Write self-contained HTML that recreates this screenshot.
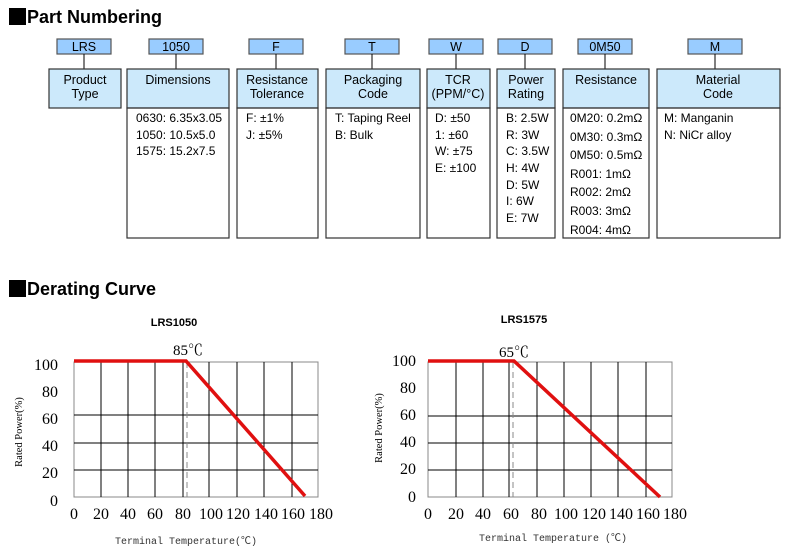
<!DOCTYPE html>
<html><head><meta charset="utf-8"><style>
body{margin:0;background:#fff}
svg{display:block}
.h{font-family:"Liberation Sans",sans-serif;font-size:12.5px;fill:#000;text-anchor:middle}
.b{font-family:"Liberation Sans",sans-serif;font-size:12px;fill:#000}
.s{font-family:"Liberation Serif","Noto Serif CJK SC",serif;fill:#000}
.m{font-family:"Liberation Mono","Noto Sans CJK SC",monospace;fill:#333}
</style></head><body>
<svg width="798" height="558" viewBox="0 0 798 558" xmlns="http://www.w3.org/2000/svg">
<rect x="9" y="8" width="17" height="17" fill="#000"/>
<text x="27" y="23" font-family="Liberation Sans,sans-serif" font-weight="bold" font-size="18">Part Numbering</text>
<rect x="9" y="280" width="17" height="17" fill="#000"/>
<text x="27" y="295" font-family="Liberation Sans,sans-serif" font-weight="bold" font-size="18">Derating Curve</text>

<g stroke="#555" stroke-width="1.2" fill="#99ccff">
<rect x="57" y="39" width="54" height="15"/>
<rect x="149" y="39" width="54" height="15"/>
<rect x="249" y="39" width="54" height="15"/>
<rect x="345" y="39" width="54" height="15"/>
<rect x="429" y="39" width="54" height="15"/>
<rect x="498" y="39" width="54" height="15"/>
<rect x="578" y="39" width="54" height="15"/>
<rect x="688" y="39" width="54" height="15"/>
</g>
<g stroke="#000" stroke-width="1">
<line x1="84" y1="54" x2="84" y2="69"/><line x1="176" y1="54" x2="176" y2="69"/>
<line x1="276" y1="54" x2="276" y2="69"/><line x1="372" y1="54" x2="372" y2="69"/>
<line x1="456" y1="54" x2="456" y2="69"/><line x1="525" y1="54" x2="525" y2="69"/>
<line x1="605" y1="54" x2="605" y2="69"/><line x1="715" y1="54" x2="715" y2="69"/>
</g>
<g class="h">
<text x="84" y="51">LRS</text><text x="176" y="51">1050</text><text x="276" y="51">F</text><text x="372" y="51">T</text>
<text x="456" y="51">W</text><text x="525" y="51">D</text><text x="605" y="51">0M50</text><text x="715" y="51">M</text>
</g>
<g fill="#cce9fb" stroke="#333" stroke-width="1.2">
<rect x="49" y="69" width="72" height="39"/>
<rect x="127" y="69" width="102" height="39"/>
<rect x="237" y="69" width="81" height="39"/>
<rect x="326" y="69" width="94" height="39"/>
<rect x="427" y="69" width="63" height="39"/>
<rect x="497" y="69" width="58" height="39"/>
<rect x="563" y="69" width="86" height="39"/>
<rect x="657" y="69" width="123" height="39"/>
</g>
<g fill="none" stroke="#333" stroke-width="1.2">
<rect x="127" y="108" width="102" height="130"/>
<rect x="237" y="108" width="81" height="130"/>
<rect x="326" y="108" width="94" height="130"/>
<rect x="427" y="108" width="63" height="130"/>
<rect x="497" y="108" width="58" height="130"/>
<rect x="563" y="108" width="86" height="130"/>
<rect x="657" y="108" width="123" height="130"/>
</g>
<g class="h">
<text x="85" y="84">Product</text><text x="85" y="98">Type</text>
<text x="178" y="84">Dimensions</text>
<text x="277" y="84">Resistance</text><text x="277" y="98">Tolerance</text>
<text x="373" y="84">Packaging</text><text x="373" y="98">Code</text>
<text x="458" y="84">TCR</text><text x="458" y="98">(PPM/°C)</text>
<text x="526" y="84">Power</text><text x="526" y="98">Rating</text>
<text x="606" y="84">Resistance</text>
<text x="718" y="84">Material</text><text x="718" y="98">Code</text>
</g>
<g class="b">
<text x="136" y="122">0630: 6.35x3.05</text><text x="136" y="139">1050: 10.5x5.0</text><text x="136" y="155">1575: 15.2x7.5</text>
<text x="246" y="122">F: ±1%</text><text x="246" y="139">J: ±5%</text>
<text x="335" y="122">T: Taping Reel</text><text x="335" y="139">B: Bulk</text>
<text x="435" y="122">D: ±50</text><text x="435" y="139">1: ±60</text><text x="435" y="155">W: ±75</text><text x="435" y="172">E: ±100</text>
<text x="506" y="122">B: 2.5W</text><text x="506" y="139">R: 3W</text><text x="506" y="155">C: 3.5W</text><text x="506" y="172">H: 4W</text><text x="506" y="189">D: 5W</text><text x="506" y="205">I: 6W</text><text x="506" y="222">E: 7W</text>
<text x="570" y="122">0M20: 0.2mΩ</text><text x="570" y="141">0M30: 0.3mΩ</text><text x="570" y="159">0M50: 0.5mΩ</text><text x="570" y="178">R001: 1mΩ</text><text x="570" y="196">R002: 2mΩ</text><text x="570" y="215">R003: 3mΩ</text><text x="570" y="234">R004: 4mΩ</text>
<text x="664" y="122">M: Manganin</text><text x="664" y="139">N: NiCr alloy</text>
</g>

<!-- Chart 1 -->
<text x="174" y="326" font-family="Liberation Sans,sans-serif" font-weight="bold" font-size="11" text-anchor="middle">LRS1050</text>
<g stroke="#000" stroke-width="1">
<rect x="74" y="362" width="244" height="135" fill="none" stroke="#888"/>
<line x1="101" y1="362" x2="101" y2="497"/><line x1="128" y1="362" x2="128" y2="497"/><line x1="155" y1="362" x2="155" y2="497"/><line x1="183" y1="362" x2="183" y2="497"/><line x1="209" y1="362" x2="209" y2="497"/><line x1="237" y1="362" x2="237" y2="497"/><line x1="264" y1="362" x2="264" y2="497"/><line x1="292" y1="362" x2="292" y2="497"/>
<line x1="74" y1="415" x2="318" y2="415"/><line x1="74" y1="443" x2="318" y2="443"/><line x1="74" y1="470" x2="318" y2="470"/>
</g>
<line x1="187" y1="362" x2="187" y2="497" stroke="#888" stroke-dasharray="6,4"/>
<polyline points="74,361 186,361 305,496" fill="none" stroke="#e01010" stroke-width="3.5"/>
<g class="s" font-size="16" text-anchor="end">
<text x="58" y="370">100</text><text x="58" y="397">80</text><text x="58" y="424">60</text><text x="58" y="451">40</text><text x="58" y="478">20</text><text x="58" y="506">0</text>
</g>
<g class="s" font-size="16" text-anchor="middle">
<text x="74" y="519">0</text><text x="101" y="519">20</text><text x="128" y="519">40</text><text x="155" y="519">60</text><text x="183" y="519">80</text><text x="211" y="519">100</text><text x="238" y="519">120</text><text x="266" y="519">140</text><text x="293" y="519">160</text><text x="321" y="519">180</text>
</g>
<text x="188" y="355" class="s" font-size="15" text-anchor="middle">85℃</text>
<text x="186" y="544" class="m" font-size="10" text-anchor="middle">Terminal Temperature(℃)</text>
<text transform="translate(22,432) rotate(-90)" class="s" font-size="10.5" text-anchor="middle" fill="#555">Rated Power(%)</text>

<!-- Chart 2 -->
<text x="524" y="323" font-family="Liberation Sans,sans-serif" font-weight="bold" font-size="11" text-anchor="middle">LRS1575</text>
<g stroke="#000" stroke-width="1">
<rect x="428" y="362" width="244" height="135" fill="none" stroke="#888"/>
<line x1="456" y1="362" x2="456" y2="497"/><line x1="483" y1="362" x2="483" y2="497"/><line x1="509" y1="362" x2="509" y2="497"/><line x1="537" y1="362" x2="537" y2="497"/><line x1="564" y1="362" x2="564" y2="497"/><line x1="591" y1="362" x2="591" y2="497"/><line x1="618" y1="362" x2="618" y2="497"/><line x1="646" y1="362" x2="646" y2="497"/>
<line x1="428" y1="416" x2="672" y2="416"/><line x1="428" y1="443" x2="672" y2="443"/><line x1="428" y1="470" x2="672" y2="470"/>
</g>
<line x1="513" y1="362" x2="513" y2="497" stroke="#888" stroke-dasharray="6,4"/>
<polyline points="428,361 514,361 660,497" fill="none" stroke="#e01010" stroke-width="3.5"/>
<g class="s" font-size="16" text-anchor="end">
<text x="416" y="366">100</text><text x="416" y="393">80</text><text x="416" y="420">60</text><text x="416" y="447">40</text><text x="416" y="474">20</text><text x="416" y="502">0</text>
</g>
<g class="s" font-size="16" text-anchor="middle">
<text x="428" y="519">0</text><text x="456" y="519">20</text><text x="483" y="519">40</text><text x="511" y="519">60</text><text x="539" y="519">80</text><text x="566" y="519">100</text><text x="594" y="519">120</text><text x="621" y="519">140</text><text x="648" y="519">160</text><text x="675" y="519">180</text>
</g>
<text x="514" y="357" class="s" font-size="15" text-anchor="middle">65℃</text>
<text x="553" y="541" class="m" font-size="10" text-anchor="middle">Terminal Temperature (℃)</text>
<text transform="translate(382,428) rotate(-90)" class="s" font-size="10.5" text-anchor="middle" fill="#555">Rated Power(%)</text>
</svg>
</body></html>
